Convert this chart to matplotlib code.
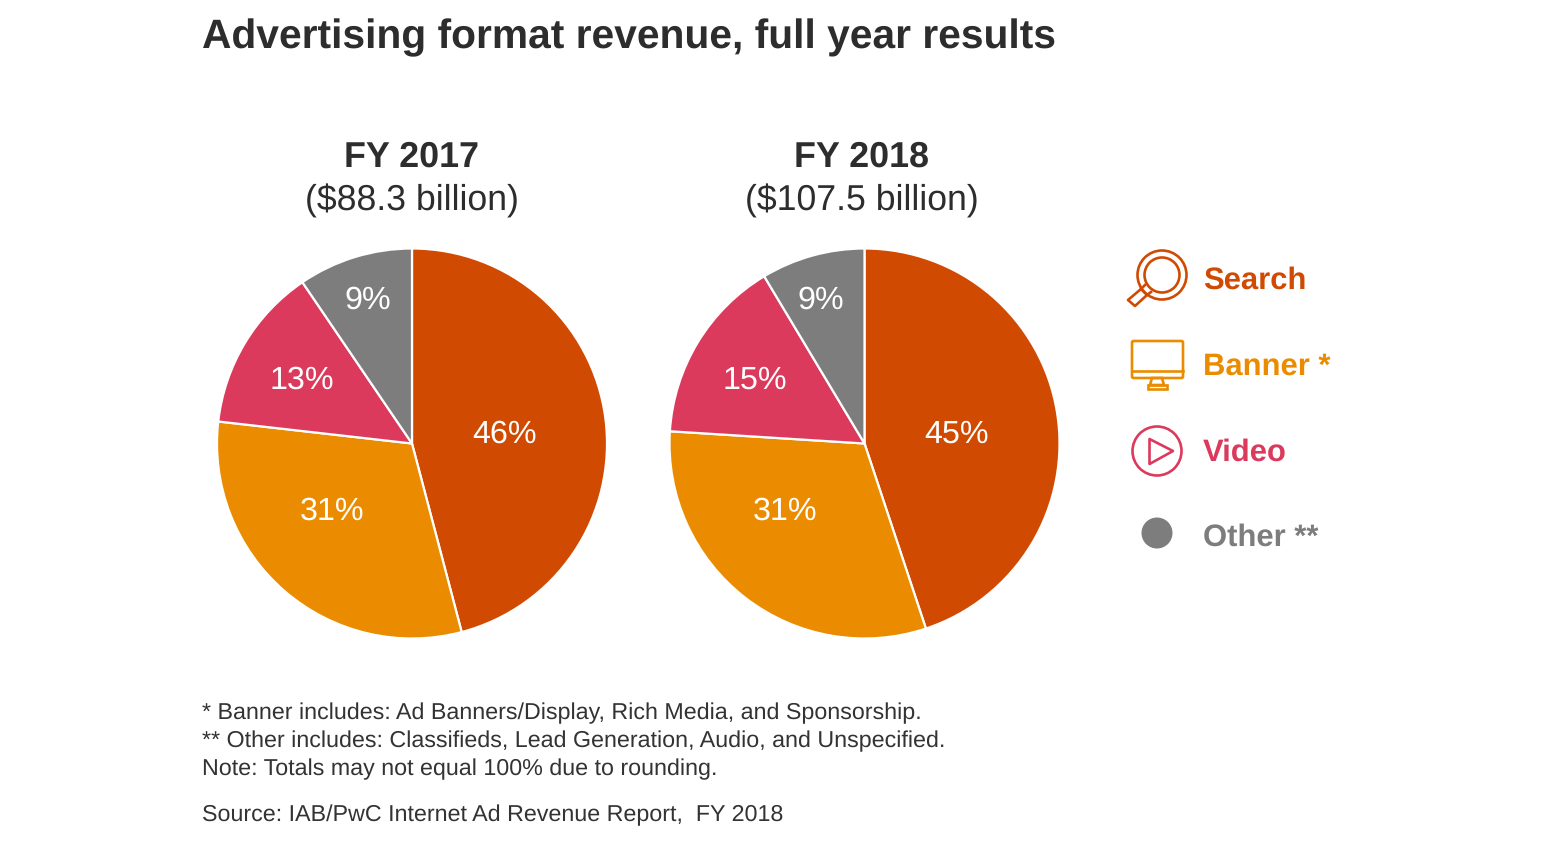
import matplotlib
matplotlib.use("Agg")
from matplotlib import pyplot as plt
from matplotlib.patches import Circle, FancyBboxPatch, Polygon, Rectangle

plt.rcParams['font.family'] = ['Liberation Sans', 'DejaVu Sans']
plt.rcParams['text.hinting'] = 'no_hinting'

W, H = 1544, 844

categories = ["Search", "Banner *", "Video", "Other **"]
colors = ["#D04A02", "#EB8C00", "#DB3A5C", "#7D7D7D"]

# shares as measured from the slices, the labels are what the chart prints
shares_2017 = [45.9, 30.9, 13.7, 9.5]
shares_2018 = [44.9, 31.1, 15.4, 8.6]
labels_2017 = ["46%", "31%", "13%", "9%"]
labels_2018 = ["45%", "31%", "15%", "9%"]

label_xy_2017 = [(504.5, 434), (332, 511), (302, 380), (368, 300)]
label_xy_2018 = [(957, 434), (785, 511), (754.5, 380), (821, 300)]

footnotes = [
    "* Banner includes: Ad Banners/Display, Rich Media, and Sponsorship.",
    "** Other includes: Classifieds, Lead Generation, Audio, and Unspecified.",
    "Note: Totals may not equal 100% due to rounding.",
]
source = "Source: IAB/PwC Internet Ad Revenue Report,  FY 2018"

fig = plt.figure(figsize=(W / 100, H / 100), dpi=100, facecolor="white")


def draw_pie(cx, cy, r, shares):
    ax = fig.add_axes([(cx - r) / W, 1 - (cy + r) / H, 2 * r / W, 2 * r / H])
    ax.pie(shares, colors=colors, startangle=90, counterclock=False, radius=1,
           normalize=True, wedgeprops={"edgecolor": "white", "linewidth": 1.6})
    ax.set_xlim(-1, 1)
    ax.set_ylim(-1, 1)


draw_pie(412, 443.5, 195, shares_2017)
draw_pie(864.5, 443.5, 195, shares_2018)

# overlay in pixel coordinates for text and icons
ov = fig.add_axes([0, 0, 1, 1])
ov.set_xlim(0, W)
ov.set_ylim(H, 0)
ov.axis("off")
ov.patch.set_alpha(0)

dark = "#2D2D2D"
ov.text(202, 38, "Advertising format revenue, full year results", fontsize=29.36,
        fontweight="bold", color=dark, va="center", ha="left")

ov.text(412, 157.5, "FY 2017", fontsize=25.8, fontweight="bold", color=dark, ha="center", va="center")
ov.text(412, 201, "($88.3 billion)", fontsize=25.7, color=dark, ha="center", va="center")
ov.text(862, 157.5, "FY 2018", fontsize=25.8, fontweight="bold", color=dark, ha="center", va="center")
ov.text(862, 201, "($107.5 billion)", fontsize=25.7, color=dark, ha="center", va="center")

for txt, xy in zip(labels_2017 + labels_2018, label_xy_2017 + label_xy_2018):
    ov.text(xy[0], xy[1], txt, fontsize=23.2, color="white", ha="center", va="center")

# legend labels
legend_y = [281, 367, 453, 538]
for name, col, y in zip(categories, colors, legend_y):
    ov.text(1203, y, name, fontsize=22.3, fontweight="bold", color=col, ha="left", va="center")

icon_lw = 1.9

# search icon
c = colors[0]
ov.add_patch(Circle((1162, 275), 24.5, fill=False, ec=c, lw=icon_lw))
ov.add_patch(Circle((1162, 275), 17.5, fill=False, ec=c, lw=icon_lw))
ov.add_patch(Polygon([(1128, 300), (1135, 306), (1147, 295), (1141, 289)], closed=True,
                     fill=False, ec=c, lw=icon_lw, joinstyle="round"))
ov.plot([1141, 1145], [289, 285], color=c, lw=icon_lw)
ov.plot([1147, 1151], [295, 292], color=c, lw=icon_lw)

# banner icon
c = colors[1]
ov.add_patch(FancyBboxPatch((1132, 341), 51, 37, boxstyle="round,pad=0,rounding_size=1.5", fill=False, ec=c, lw=icon_lw))
ov.plot([1132, 1183], [371, 371], color=c, lw=icon_lw)
ov.add_patch(Polygon([(1152, 378), (1162, 378), (1164, 385), (1150, 385)], closed=True, fill=False, ec=c, lw=icon_lw))
ov.add_patch(Rectangle((1148, 385), 19, 3.5, fill=False, ec=c, lw=icon_lw))

# video icon
c = colors[2]
ov.add_patch(Circle((1157, 451), 24.5, fill=False, ec=c, lw=icon_lw))
ov.add_patch(Polygon([(1149.5, 439), (1173, 451), (1149.5, 464)], closed=True, fill=False, ec=c, lw=icon_lw, joinstyle="round"))

# other dot
ov.add_patch(Circle((1157, 533), 15.5, fc=colors[3], ec="none"))

note_col = "#333333"
for txt, y in zip(footnotes, [713, 741, 769]):
    ov.text(202, y, txt, fontsize=16.79, color=note_col, ha="left", va="center")
ov.text(202, 815, source, fontsize=16.79, color=note_col, ha="left", va="center")

fig.savefig("out.png", dpi=100, facecolor="white")
